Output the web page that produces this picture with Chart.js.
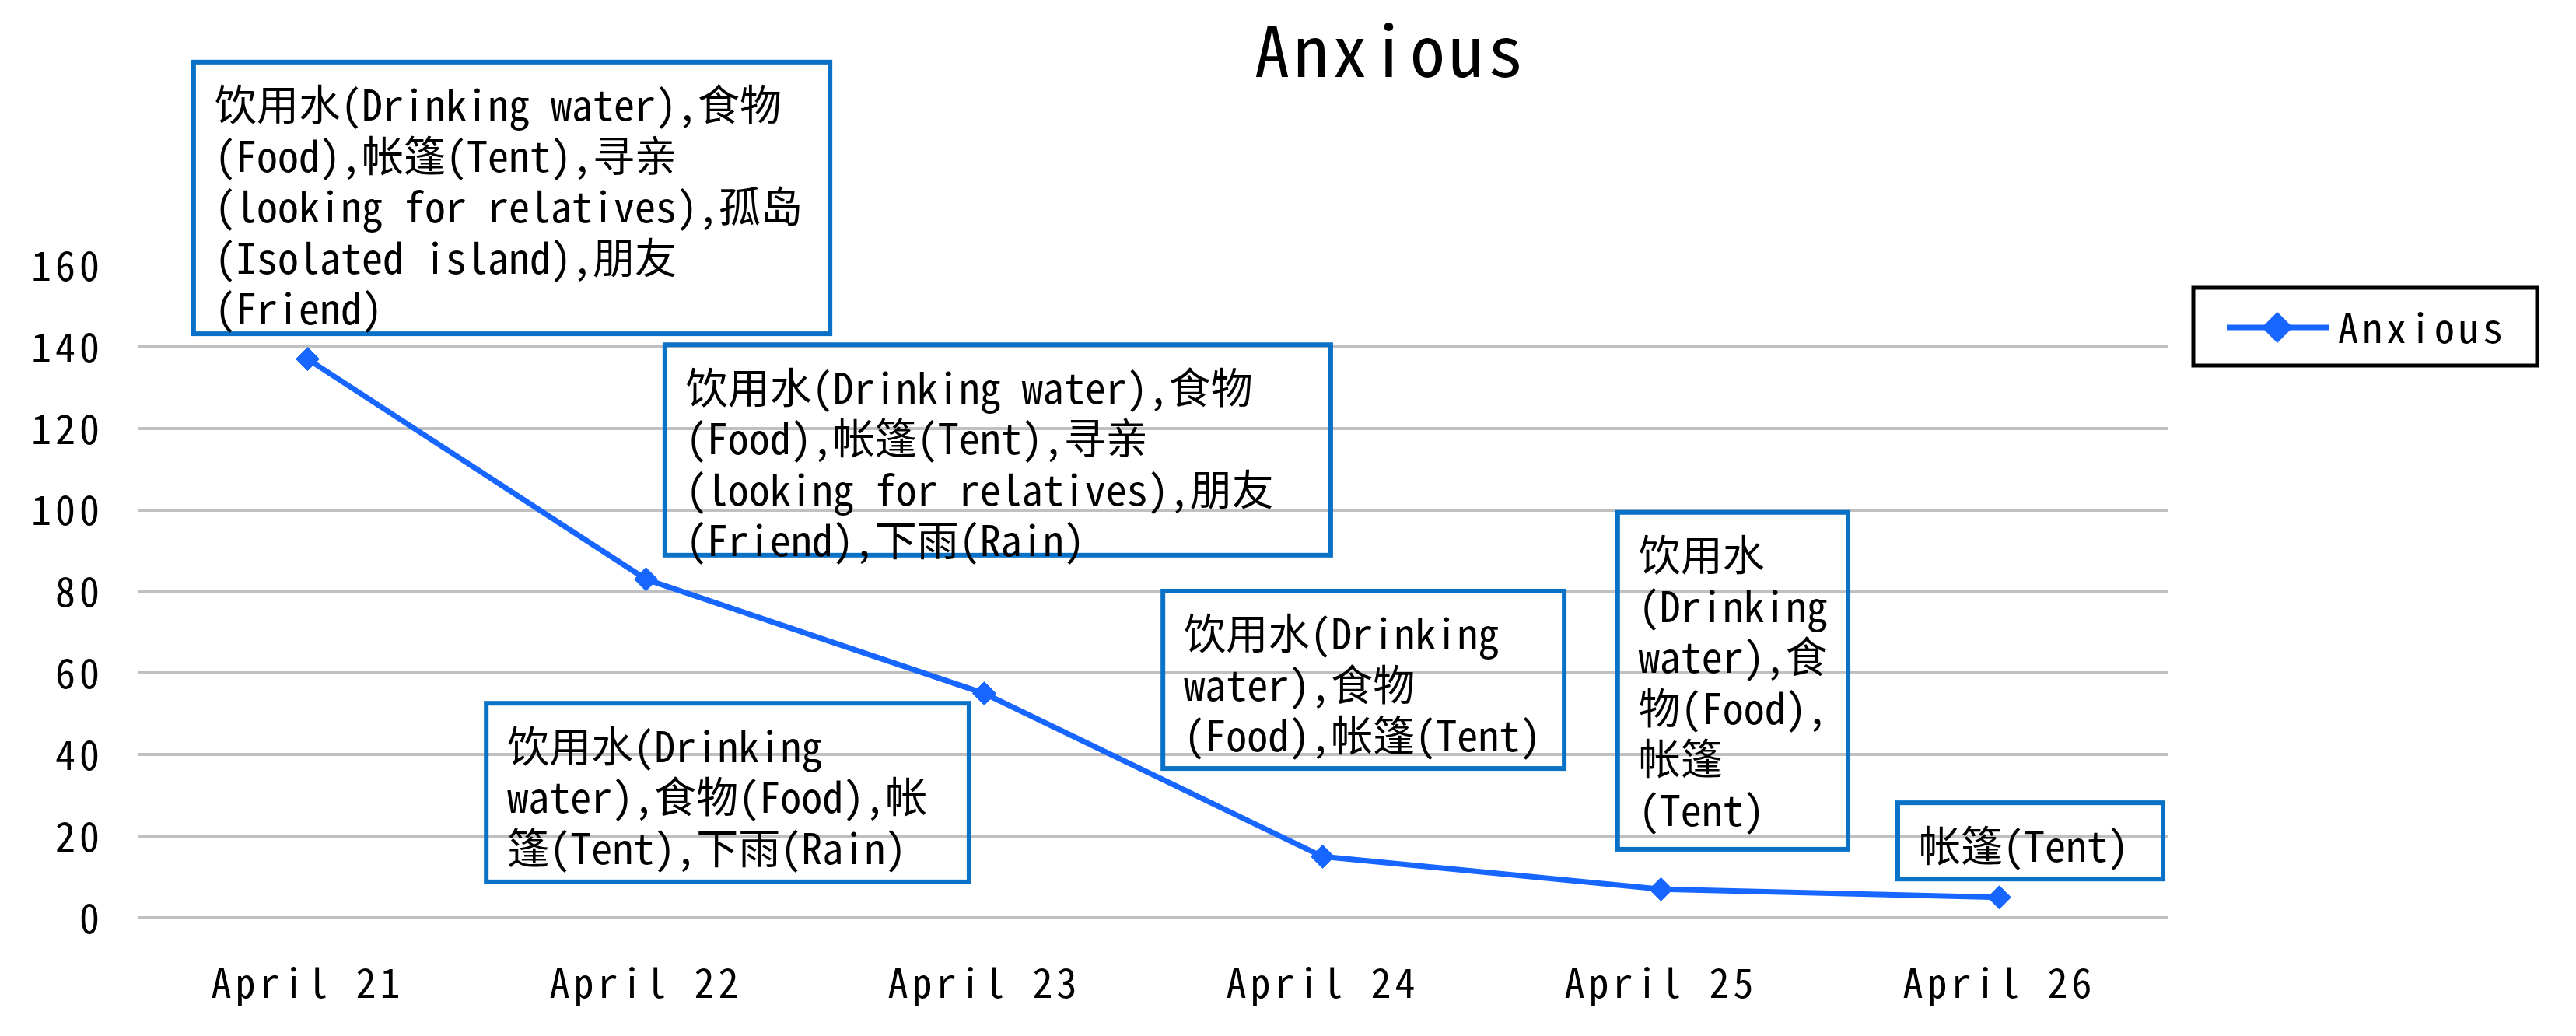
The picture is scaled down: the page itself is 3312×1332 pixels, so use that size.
<!DOCTYPE html>
<html>
<head>
<meta charset="utf-8">
<script src="https://cdn.jsdelivr.net/npm/chart.js@4/dist/chart.umd.min.js"></script>
<style>
html,body{margin:0;padding:0;background:#ffffff;}
#wrap{width:3312px;height:1332px;position:relative;}
</style>
</head>
<body>
<div id="wrap"><canvas id="c" width="3312" height="1332"></canvas></div>
<script>
// ---------------- data ----------------
const categories = ['April 21', 'April 22', 'April 23', 'April 24', 'April 25', 'April 26'];
const anxiousValues = [137, 83, 55, 15, 7, 5];
const yTickValues = [0, 20, 40, 60, 80, 100, 120, 140, 160];
const seriesName = 'Anxious';
const chartTitle = 'Anxious';

// callout texts (one array of lines per callout)
const noteTexts = [
  ['饮用水(Drinking water),食物', '(Food),帐篷(Tent),寻亲', '(looking for relatives),孤岛', '(Isolated island),朋友', '(Friend)'],
  ['饮用水(Drinking water),食物', '(Food),帐篷(Tent),寻亲', '(looking for relatives),朋友', '(Friend),下雨(Rain)'],
  ['饮用水(Drinking', 'water),食物(Food),帐', '篷(Tent),下雨(Rain)'],
  ['饮用水(Drinking', 'water),食物', '(Food),帐篷(Tent)'],
  ['饮用水', '(Drinking', 'water),食', '物(Food),', '帐篷', '(Tent)'],
  ['帐篷(Tent)']
];

// ---------------- layout / style ----------------
// callout frames expressed in axis units (x: category index, y: value)
const noteFrames = [
  { left: -0.337, right: 1.544, top: 209.8, bottom: 143.2 },
  { left: 1.056, right: 3.024, top: 140.5, bottom: 88.9 },
  { left: 0.528, right: 1.955, top: 52.6, bottom: 8.8 },
  { left: 2.528, right: 3.714, top: 80.1, bottom: 36.6 },
  { left: 3.872, right: 4.553, top: 99.4, bottom: 16.8 },
  { left: 4.700, right: 5.484, top: 28.2, bottom: 9.5 }
];
const FONT = '"Noto Sans Mono CJK SC", "Noto Sans CJK SC", "DejaVu Sans Mono", monospace';
const LINE_COLOR = '#1766ff';
const BOX_COLOR = '#0a72c6';
const GRID_COLOR = '#c0c0c0';

const deco = {
  id: 'deco',
  beforeDraw(chart) {
    chart.ctx.letterSpacing = '5px';
  },
  afterDatasetsDraw(chart) {
    const ctx = chart.ctx, xs = chart.scales.x, ys = chart.scales.y;
    ctx.save();
    ctx.letterSpacing = '0px';
    noteFrames.forEach((f, i) => {
      const l = xs.getPixelForValue(f.left), r = xs.getPixelForValue(f.right);
      const t = ys.getPixelForValue(f.top), b = ys.getPixelForValue(f.bottom);
      ctx.strokeStyle = BOX_COLOR;
      ctx.lineWidth = 6;
      ctx.strokeRect(l, t, r - l, b - t);
      ctx.fillStyle = '#000';
      ctx.font = '54px ' + FONT;
      ctx.textBaseline = 'middle';
      ctx.textAlign = 'left';
      noteTexts[i].forEach((line, k) => ctx.fillText(line, l + 27, t + 55 + k * 65.5));
    });
    ctx.restore();
  },
  afterDraw(chart) {
    const ctx = chart.ctx;
    ctx.save();
    // title
    ctx.letterSpacing = '5px';
    ctx.fillStyle = '#000';
    ctx.font = '90px ' + FONT;
    ctx.textAlign = 'center';
    ctx.textBaseline = 'alphabetic';
    ctx.fillText(chartTitle, 1788, 99);
    // legend
    ctx.letterSpacing = '0px';
    ctx.strokeStyle = '#000';
    ctx.lineWidth = 5;
    ctx.strokeRect(2820, 370, 442, 100);
    ctx.strokeStyle = LINE_COLOR;
    ctx.lineWidth = 7;
    ctx.beginPath();
    ctx.moveTo(2863, 421);
    ctx.lineTo(2994, 421);
    ctx.stroke();
    Chart.helpers.drawPoint(ctx, { pointStyle: 'rectRot', radius: 15, borderWidth: 1, rotation: 0 }, 2928, 421);
    ctx.fillStyle = LINE_COLOR;
    ctx.fill();
    ctx.letterSpacing = '5px';
    ctx.fillStyle = '#000';
    ctx.font = '52px ' + FONT;
    ctx.textAlign = 'left';
    ctx.textBaseline = 'middle';
    ctx.fillText(seriesName, 3006, 421);
    ctx.restore();
  }
};

new Chart(document.getElementById('c'), {
  type: 'line',
  data: {
    labels: categories,
    datasets: [{
      label: seriesName,
      data: anxiousValues,
      borderColor: LINE_COLOR,
      backgroundColor: LINE_COLOR,
      borderWidth: 7,
      tension: 0,
      pointStyle: 'rectRot',
      pointRadius: 15,
      pointBackgroundColor: LINE_COLOR,
      pointBorderColor: LINE_COLOR,
      pointBorderWidth: 1,
      clip: false
    }]
  },
  options: {
    responsive: false,
    animation: false,
    devicePixelRatio: 1,
    layout: { padding: { left: 0, right: 524, top: 341, bottom: 0 } },
    plugins: {
      legend: { display: false },
      title: { display: false },
      tooltip: { enabled: false }
    },
    scales: {
      x: {
        type: 'category',
        offset: true,
        grid: { display: false, drawTicks: false },
        border: { display: false },
        ticks: {
          color: '#000',
          font: { family: FONT, size: 52 },
          padding: 52,
          maxRotation: 0,
          autoSkip: false
        },
        afterFit(s) { s.height = 152; }
      },
      y: {
        min: 0,
        max: 160,
        grid: {
          drawTicks: false,
          lineWidth: 4,
          color: (c) => (c.tick && c.tick.value === yTickValues[yTickValues.length - 1]) ? 'rgba(0,0,0,0)' : GRID_COLOR
        },
        border: { display: false },
        afterBuildTicks(s) { s.ticks = yTickValues.map(v => ({ value: v })); },
        ticks: {
          color: '#000',
          font: { family: FONT, size: 52 },
          padding: 45
        },
        afterFit(s) { s.width = 178; }
      }
    }
  },
  plugins: [deco]
});
</script>
</body>
</html>
